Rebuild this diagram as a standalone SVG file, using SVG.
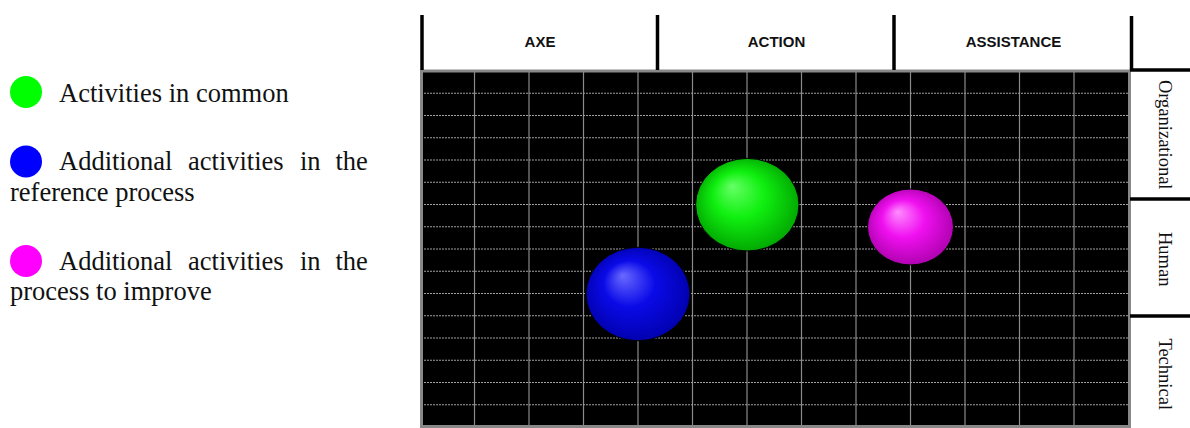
<svg xmlns="http://www.w3.org/2000/svg" width="1190" height="428" viewBox="0 0 1190 428">
<style>
.leg{font-family:"Liberation Serif","Times New Roman",serif;font-size:26.5px;fill:#111}
.hdr{font-family:"Liberation Sans",Arial,sans-serif;font-size:15px;font-weight:bold;fill:#111;text-anchor:middle}
.row{font-family:"Liberation Serif","Times New Roman",serif;font-size:18.5px;fill:#111;text-anchor:middle}
.blk{stroke:#000;stroke-width:3.5;fill:none}
.vg{stroke:#8a8a8a;stroke-width:1.2}
.hg{stroke:#a0a0a0;stroke-width:1.1;stroke-dasharray:2 1}
.sph{stroke:#000;stroke-width:1}
</style>
<defs>
<radialGradient id="gG" cx="0.5" cy="0.5" r="0.55" fx="0.35" fy="0.3">
<stop offset="0" stop-color="#66ff66"/><stop offset="0.45" stop-color="#10f010"/><stop offset="1" stop-color="#00a000"/>
</radialGradient>
<radialGradient id="gB" cx="0.5" cy="0.5" r="0.55" fx="0.35" fy="0.3">
<stop offset="0" stop-color="#6a6aff"/><stop offset="0.45" stop-color="#0a0ae8"/><stop offset="1" stop-color="#0000a8"/>
</radialGradient>
<radialGradient id="gM" cx="0.5" cy="0.5" r="0.55" fx="0.35" fy="0.3">
<stop offset="0" stop-color="#ff8cff"/><stop offset="0.45" stop-color="#f010f0"/><stop offset="1" stop-color="#a800a8"/>
</radialGradient>
</defs>
<rect width="1190" height="428" fill="#fff"/>

<g id="legend-common">
<circle cx="26" cy="92" r="16" fill="#00ff00"/>
<text class="leg" x="59" y="102">Activities in common</text>
</g>
<g id="legend-reference">
<circle cx="26" cy="161.5" r="16" fill="#0000ff"/>
<text class="leg" y="170"><tspan x="59">Additional</tspan><tspan x="188">activities</tspan><tspan x="300">in</tspan><tspan x="335.5">the</tspan></text>
<text class="leg" x="10" y="200.5">reference process</text>
</g>
<g id="legend-improve">
<circle cx="26" cy="261" r="16" fill="#ff00ff"/>
<text class="leg" y="269.5"><tspan x="59">Additional</tspan><tspan x="188">activities</tspan><tspan x="300">in</tspan><tspan x="335.5">the</tspan></text>
<text class="leg" x="10" y="300">process to improve</text>
</g>

<g id="grid">
<rect x="421.5" y="71" width="708" height="356" fill="#000"/>
<g class="vg">
<line x1="474.5" y1="71" x2="474.5" y2="427"/><line x1="529" y1="71" x2="529" y2="427"/><line x1="583.5" y1="71" x2="583.5" y2="427"/><line x1="638" y1="71" x2="638" y2="427"/><line x1="692.5" y1="71" x2="692.5" y2="427"/><line x1="747" y1="71" x2="747" y2="427"/><line x1="801.5" y1="71" x2="801.5" y2="427"/><line x1="856" y1="71" x2="856" y2="427"/><line x1="910.5" y1="71" x2="910.5" y2="427"/><line x1="965" y1="71" x2="965" y2="427"/><line x1="1019.5" y1="71" x2="1019.5" y2="427"/><line x1="1074" y1="71" x2="1074" y2="427"/>
</g>
<g class="hg">
<line x1="421" y1="93.25" x2="1129" y2="93.25"/><line x1="421" y1="115.5" x2="1129" y2="115.5"/><line x1="421" y1="137.75" x2="1129" y2="137.75"/><line x1="421" y1="160" x2="1129" y2="160"/><line x1="421" y1="182.25" x2="1129" y2="182.25"/><line x1="421" y1="204.5" x2="1129" y2="204.5"/><line x1="421" y1="226.75" x2="1129" y2="226.75"/><line x1="421" y1="249" x2="1129" y2="249"/><line x1="421" y1="271.25" x2="1129" y2="271.25"/><line x1="421" y1="293.5" x2="1129" y2="293.5"/><line x1="421" y1="315.75" x2="1129" y2="315.75"/><line x1="421" y1="338" x2="1129" y2="338"/><line x1="421" y1="360.25" x2="1129" y2="360.25"/><line x1="421" y1="382.5" x2="1129" y2="382.5"/><line x1="421" y1="404.75" x2="1129" y2="404.75"/>
</g>
<rect x="421.5" y="71" width="708" height="355.5" fill="none" stroke="#888" stroke-width="3"/>
<line x1="1129.5" y1="71" x2="1129.5" y2="428" stroke="#888" stroke-width="3"/>
</g>

<g id="header">
<line class="blk" x1="422" y1="15" x2="422" y2="70"/>
<line class="blk" x1="657.5" y1="15" x2="657.5" y2="70"/>
<line class="blk" x1="894" y1="15" x2="894" y2="70"/>
<line class="blk" x1="1131.5" y1="16" x2="1131.5" y2="70"/>
</g>
<g id="col-axe"><text class="hdr" x="540" y="47">AXE</text></g>
<g id="col-action"><text class="hdr" x="776.5" y="47">ACTION</text></g>
<g id="col-assistance"><text class="hdr" x="1013.5" y="47">ASSISTANCE</text></g>

<g id="row-lines">
<line class="blk" x1="1130" y1="70" x2="1190" y2="70"/>
<line class="blk" x1="1130" y1="199" x2="1190" y2="199"/>
<line class="blk" x1="1130" y1="316" x2="1190" y2="316"/>
</g>
<g id="row-organizational"><text class="row" transform="translate(1158.5,134.7) rotate(90)">Organizational</text></g>
<g id="row-human"><text class="row" transform="translate(1158.5,259.2) rotate(90)">Human</text></g>
<g id="row-technical"><text class="row" transform="translate(1158.5,374.2) rotate(90)">Technical</text></g>

<g id="sphere-common"><ellipse class="sph" cx="747.3" cy="204.7" rx="51.7" ry="46.3" fill="url(#gG)"/></g>
<g id="sphere-reference"><ellipse class="sph" cx="638" cy="294" rx="52" ry="46.7" fill="url(#gB)"/></g>
<g id="sphere-improve"><ellipse class="sph" cx="910.5" cy="227" rx="43" ry="38" fill="url(#gM)"/></g>
</svg>
